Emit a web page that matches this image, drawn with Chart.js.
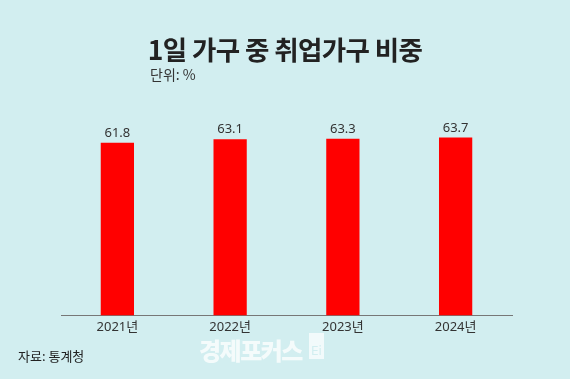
<!DOCTYPE html>
<html><head><meta charset="utf-8">
<script src="https://cdn.jsdelivr.net/npm/chart.js@4"></script>
<style>
html,body{margin:0;padding:0;background:#d2eef0;}
#wrap{position:relative;width:570px;height:379px;background:#d2eef0;overflow:hidden;font-family:"Noto Sans CJK KR","Noto Sans",sans-serif;}
#c{position:absolute;left:0;top:0;}
.t{position:absolute;white-space:nowrap;}
#title{left:0;width:570px;text-align:center;top:29px;font-size:26.5px;font-weight:700;color:#222;letter-spacing:-0.6px;}
#unit{left:150px;top:64px;font-size:14px;color:#333;}
#src{left:18px;top:346px;font-size:13px;color:#222;}
#wm{left:199px;top:332px;font-size:24px;font-weight:900;color:rgba(255,255,255,0.75);letter-spacing:-1.5px;}
#wmbox{left:309px;top:333px;width:15px;height:26px;background:rgba(255,255,255,0.7);font-size:12px;color:#d2eef0;font-family:"DejaVu Sans",sans-serif;text-align:center;line-height:36px;}
</style></head>
<body><div id="wrap">
<canvas id="c" width="570" height="379"></canvas>
<div class="t" id="title">1일 가구 중 취업가구 비중</div>
<div class="t" id="unit">단위: %</div>
<div class="t" id="src">자료: 통계청</div>
<div class="t" id="wm">경제포커스</div>
<div class="t" id="wmbox">Ei</div>
</div>
<script>
const categories = ["2021년","2022년","2023년","2024년"];
const shares = [61.8, 63.1, 63.3, 63.7];

const valueLabels = {
  id:'valueLabels',
  afterDatasetsDraw(chart){
    const ctx = chart.ctx;
    const meta = chart.getDatasetMeta(0);
    ctx.save();
    ctx.font = '13px "Noto Sans","Noto Sans CJK KR",sans-serif';
    ctx.fillStyle = '#333';
    ctx.textAlign = 'center';
    ctx.textBaseline = 'bottom';
    meta.data.forEach((el,i)=>{
      ctx.fillText(shares[i].toFixed(1), el.x, el.y - 3);
    });
    ctx.restore();
  }
};

new Chart(document.getElementById('c'), {
  type:'bar',
  data:{labels:categories, datasets:[{data:shares, backgroundColor:'#ff0000', borderWidth:0, barPercentage:0.59, categoryPercentage:0.5}]},
  options:{
    responsive:false, animation:false, devicePixelRatio:1,
    layout:{padding:{left:61, right:58, top:92, bottom:40}},
    plugins:{legend:{display:false}, tooltip:{enabled:false}, title:{display:false}},
    scales:{
      y:{display:false, min:0, max:80},
      x:{
        grid:{display:false, drawTicks:false},
        border:{display:true, color:'#777', width:1},
        ticks:{color:'#333', padding:4, font:{size:13, family:'"Noto Sans","Noto Sans CJK KR",sans-serif'}}
      }
    }
  },
  plugins:[valueLabels]
});
</script>
</body></html>
